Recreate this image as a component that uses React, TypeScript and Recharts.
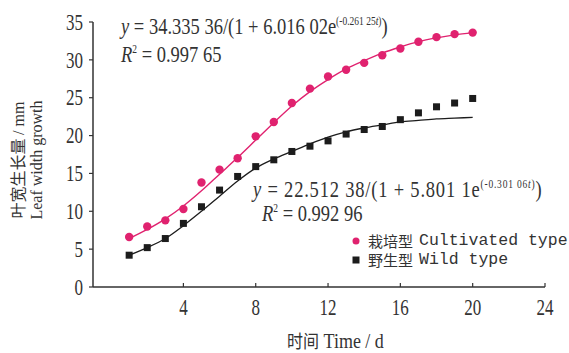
import React from "react";
import {
  ComposedChart,
  Line,
  Scatter,
  XAxis,
  YAxis,
  Legend,
} from "recharts";

// days after sowing
const days = [1, 2, 3, 4, 5, 6, 7, 8, 9, 10, 11, 12, 13, 14, 15, 16, 17, 18, 19, 20];

// observed leaf width growth (mm)
const cultivatedObs = [6.6, 8.0, 8.8, 10.3, 13.8, 15.5, 17.0, 19.9, 21.8, 24.3, 26.2, 27.8, 28.7, 29.6, 30.6, 31.5, 32.4, 33.0, 33.4, 33.6];
const wildObs = [4.2, 5.2, 6.4, 8.4, 10.6, 12.8, 14.6, 15.9, 16.8, 17.9, 18.6, 19.3, 20.2, 20.8, 21.2, 22.1, 23.0, 23.8, 24.3, 24.9];

// fitted logistic curves
const cultivatedFit = [6.4, 7.6, 9.0, 10.7, 12.7, 14.9, 17.1, 19.4, 21.7, 23.9, 25.8, 27.4, 28.8, 29.9, 30.9, 31.7, 32.4, 32.9, 33.3, 33.6];
const wildFit = [4.2, 5.2, 6.4, 8.1, 10.0, 12.0, 14.0, 15.7, 16.9, 17.9, 18.9, 19.8, 20.5, 21.0, 21.4, 21.8, 22.0, 22.2, 22.3, 22.4];

const xTicks = [4, 8, 12, 16, 20, 24];
const yTicks = [0, 5, 10, 15, 20, 25, 30, 35];

const PINK = "#e0226f";
const BLACK = "#1c1c1c";
const SERIF = "'Liberation Serif', 'Times New Roman', serif";
const MONO = "'Liberation Mono', monospace";
const CJK = "'Noto Sans CJK SC', sans-serif";

const rows = days.map((d, i) => ({
  day: d,
  cultivatedObs: cultivatedObs[i],
  wildObs: wildObs[i],
  cultivatedFit: cultivatedFit[i],
  wildFit: wildFit[i],
}));

const YTick = (props: any) => {
  const { x, y, payload } = props;
  return (
    <text
      transform={`translate(${x},${y}) scale(1,1.3)`}
      textAnchor="end"
      dy="0.35em"
      fontFamily={SERIF}
      fontSize={17}
      fill="#333"
    >
      {payload.value}
    </text>
  );
};

const XTick = (props: any) => {
  const { x, payload } = props;
  return (
    <text
      transform={`translate(${x},307) scale(1,1.3)`}
      textAnchor="middle"
      dy="0.35em"
      fontFamily={SERIF}
      fontSize={17}
      fill="#333"
    >
      {payload.value}
    </text>
  );
};

const Dot = (props: any) => {
  const { cx, cy } = props;
  if (cx == null || cy == null) return null;
  return <circle cx={cx} cy={cy} r={4.2} fill={PINK} />;
};

const Square = (props: any) => {
  const { cx, cy } = props;
  if (cx == null || cy == null) return null;
  return <rect x={cx - 3.5} y={cy - 3.5} width={7} height={7} fill={BLACK} />;
};

const legendItems = [
  { cn: "栽培型", en: "Cultivated type", mark: "circle" },
  { cn: "野生型", en: "Wild type", mark: "square" },
];

const LegendBox = () => (
  <div style={{ position: "absolute", left: 350, top: 231 }}>
    {legendItems.map((it) => (
      <div key={it.en} style={{ display: "flex", alignItems: "center", height: 19 }}>
        <svg width={12} height={12} style={{ marginRight: 6 }}>
          {it.mark === "circle" ? (
            <circle cx={6} cy={6} r={3.5} fill={PINK} />
          ) : (
            <rect x={2.5} y={2.5} width={7} height={7} fill={BLACK} />
          )}
        </svg>
        <span style={{ fontFamily: CJK, fontSize: 15, color: "#333" }}>{it.cn}</span>
        <span style={{ fontFamily: MONO, fontSize: 16.5, color: "#333", marginLeft: 6 }}>{it.en}</span>
      </div>
    ))}
  </div>
);

const eq: React.CSSProperties = {
  position: "absolute",
  fontFamily: SERIF,
  fontSize: 18.5,
  color: "#333",
  whiteSpace: "nowrap",
  transform: "scaleY(1.25)",
  transformOrigin: "left center",
  lineHeight: "20px",
};

const sup: React.CSSProperties = { fontSize: 9.5 };

export default function App() {
  return (
    <div style={{ position: "absolute", left: 0, top: 0, width: 569, height: 353, background: "#fff" }}>
      <ComposedChart
        width={569}
        height={353}
        data={rows}
        margin={{ top: 22, right: 24, bottom: 36, left: 33 }}
      >
        <XAxis
          dataKey="day"
          type="number"
          domain={[-1, 24]}
          ticks={xTicks}
          allowDataOverflow
          height={30}
          tickSize={-4}
          tick={<XTick />}
          axisLine={{ stroke: "#333", strokeWidth: 1.5 }}
          tickLine={{ stroke: "#333", strokeWidth: 1.2 }}
        />
        <YAxis
          type="number"
          domain={[0, 35]}
          ticks={yTicks}
          width={60}
          tickSize={4}
          tickMargin={6}
          tick={<YTick />}
          axisLine={{ stroke: "#333", strokeWidth: 1.5 }}
          tickLine={{ stroke: "#333", strokeWidth: 1.2 }}
        />
        <Legend content={() => null} />
        <Line
          type="monotone"
          dataKey="cultivatedFit"
          stroke={PINK}
          strokeWidth={1.4}
          dot={false}
          isAnimationActive={false}
        />
        <Line
          type="monotone"
          dataKey="wildFit"
          stroke={BLACK}
          strokeWidth={1.3}
          dot={false}
          isAnimationActive={false}
        />
        <Scatter dataKey="cultivatedObs" shape={<Dot />} isAnimationActive={false} />
        <Scatter dataKey="wildObs" shape={<Square />} isAnimationActive={false} />
      </ComposedChart>

      <div style={{ ...eq, left: 121, top: 12 }}>
        <i>y</i> = 34.335 36/(1 + 6.016 02e<sup style={sup}>(-0.261 25<i>t</i>)</sup>)
      </div>
      <div style={{ ...eq, left: 121, top: 40 }}>
        <i>R</i>
        <sup style={sup}>2</sup> = 0.997 65
      </div>
      <div style={{ ...eq, left: 253, top: 175, letterSpacing: 0.8 }}>
        <i>y</i> = 22.512 38/(1 + 5.801 1e<sup style={sup}>(-0.301 06<i>t</i>)</sup>)
      </div>
      <div style={{ ...eq, left: 262, top: 199 }}>
        <i>R</i>
        <sup style={sup}>2</sup> = 0.992 96
      </div>

      <LegendBox />

      <div
        style={{
          position: "absolute",
          left: 287,
          top: 328,
          color: "#333",
          whiteSpace: "nowrap",
          transform: "scaleY(1.15)",
        }}
      >
        <span style={{ fontFamily: CJK, fontSize: 16 }}>时间</span>
        <span style={{ fontFamily: SERIF, fontSize: 18 }}> Time / d</span>
      </div>

      <div
        style={{
          position: "absolute",
          left: 27,
          top: 160,
          transform: "translate(-50%,-50%) rotate(-90deg)",
          whiteSpace: "nowrap",
          color: "#333",
          textAlign: "center",
          lineHeight: "18px",
        }}
      >
        <div style={{ fontFamily: CJK, fontSize: 16 }}>
          叶宽生长量 <span style={{ fontFamily: SERIF }}>/ mm</span>
        </div>
        <div style={{ fontFamily: SERIF, fontSize: 16 }}>Leaf width growth</div>
      </div>
    </div>
  );
}
